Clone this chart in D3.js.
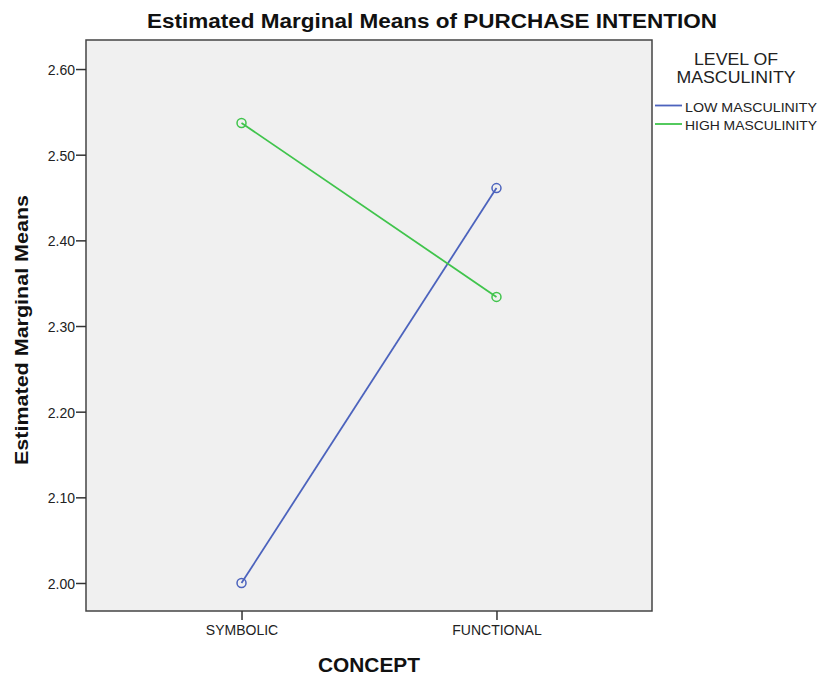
<!DOCTYPE html>
<html><head><meta charset="utf-8">
<script src="https://cdn.jsdelivr.net/npm/d3@7/dist/d3.min.js"></script>
<style>body{margin:0;background:#fff}svg{display:block}text{font-family:"Liberation Sans",Arial,sans-serif}</style>
</head><body>
<script>
const categories = ["SYMBOLIC", "FUNCTIONAL"];
const seriesNames = ["LOW MASCULINITY", "HIGH MASCULINITY"];
const lowValues = [2.000, 2.461];
const highValues = [2.537, 2.334];
const yTicks = [2.00, 2.10, 2.20, 2.30, 2.40, 2.50, 2.60];
const colors = ["#4c63bd", "#40c44c"];

const W = 820, H = 675;
const L = 86, R = 652, T = 40, B = 611;
const svg = d3.select("body").append("svg").attr("width", W).attr("height", H);

const x = d3.scalePoint().domain(categories).range([L, R]).padding(0.61);
const y = d3.scaleLinear().domain([1.9673, 2.6339]).range([B, T]);

svg.append("rect").attr("x", L).attr("y", T).attr("width", R - L).attr("height", B - T)
  .attr("fill", "#f0f0f0").attr("stroke", "#444").attr("stroke-width", 1.5);

const yAxis = svg.append("g").attr("transform", `translate(${L},0)`)
  .call(d3.axisLeft(y).tickValues(yTicks).tickFormat(d3.format(".2f")).tickSize(10).tickSizeOuter(0));
yAxis.select(".domain").remove();
yAxis.selectAll("line").attr("stroke", "#333").attr("stroke-width", 1.5);
yAxis.selectAll("text").attr("font-size", 14).attr("fill", "#222").attr("x", -11).attr("dy", "0.4em");

const xAxis = svg.append("g").attr("transform", `translate(0,${B})`)
  .call(d3.axisBottom(x).tickSize(9).tickSizeOuter(0));
xAxis.select(".domain").remove();
xAxis.selectAll("line").attr("stroke", "#333").attr("stroke-width", 1.5);
xAxis.selectAll("text").attr("font-size", 14).attr("fill", "#222").attr("y", 14);

const series = [lowValues, highValues];
const line = d3.line().x((d, i) => x(categories[i])).y(d => y(d));
series.forEach((vals, s) => {
  svg.append("path").datum(vals).attr("d", line).attr("fill", "none")
    .attr("stroke", colors[s]).attr("stroke-width", 1.8);
  svg.selectAll(null).data(vals).enter().append("circle")
    .attr("cx", (d, i) => x(categories[i])).attr("cy", d => y(d)).attr("r", 4.5)
    .attr("fill", "none").attr("stroke", colors[s]).attr("stroke-width", 1.5);
});

svg.append("text").attr("x", 432).attr("y", 28).attr("text-anchor", "middle")
  .attr("font-size", 20).attr("font-weight", "bold").attr("fill", "#111")
  .attr("textLength", 570).attr("lengthAdjust", "spacingAndGlyphs")
  .text("Estimated Marginal Means of PURCHASE INTENTION");
svg.append("text").attr("transform", `translate(28,330) rotate(-90)`)
  .attr("text-anchor", "middle").attr("font-size", 19).attr("font-weight", "bold").attr("fill", "#111")
  .attr("textLength", 270).attr("lengthAdjust", "spacingAndGlyphs")
  .text("Estimated Marginal Means");
svg.append("text").attr("x", 369).attr("y", 672).attr("text-anchor", "middle")
  .attr("font-size", 20).attr("font-weight", "bold").attr("fill", "#111")
  .attr("textLength", 102).attr("lengthAdjust", "spacingAndGlyphs").text("CONCEPT");

const lg = svg.append("g");
lg.append("text").attr("x", 736).attr("y", 65).attr("text-anchor", "middle")
  .attr("font-size", 16).attr("fill", "#222")
  .attr("textLength", 84).attr("lengthAdjust", "spacingAndGlyphs").text("LEVEL OF");
lg.append("text").attr("x", 736).attr("y", 83).attr("text-anchor", "middle")
  .attr("font-size", 16).attr("fill", "#222")
  .attr("textLength", 119).attr("lengthAdjust", "spacingAndGlyphs").text("MASCULINITY");
seriesNames.forEach((n, i) => {
  const yy = 105.5 + i * 18.5;
  lg.append("line").attr("x1", 655).attr("x2", 682).attr("y1", yy).attr("y2", yy)
    .attr("stroke", colors[i]).attr("stroke-width", 1.8);
  lg.append("text").attr("x", 685).attr("y", yy + 6).attr("font-size", 13.5)
    .attr("fill", "#222").attr("textLength", 132).attr("lengthAdjust", "spacingAndGlyphs").text(n);
});
</script>
</body></html>
